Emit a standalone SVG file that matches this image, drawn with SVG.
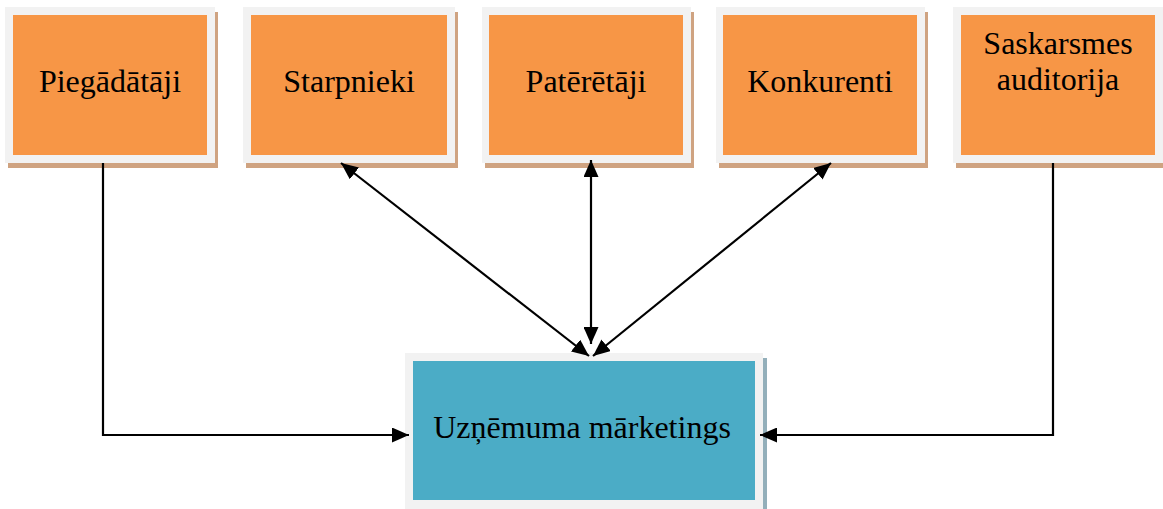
<svg xmlns="http://www.w3.org/2000/svg" width="1163" height="509" viewBox="0 0 1163 509">
<defs>
<style>
.frame{fill:#F2F2F2}
.shadowO{fill:#CFA381}
.shadowB{fill:#93AFBA}
.orange{fill:#F79646}
.teal{fill:#4BACC6}
.lbl{font-family:"Liberation Serif","Times New Roman",serif;font-size:32px;fill:#000;text-anchor:middle}
.ln{stroke:#000;stroke-width:2.2;fill:none}
</style>
<marker id="ahL" viewBox="0 0 10 10" refX="10" refY="5" markerWidth="17" markerHeight="15" markerUnits="userSpaceOnUse" orient="auto-start-reverse" preserveAspectRatio="none">
<path d="M0,0 L10,5 L0,10 z" fill="#000"/>
</marker>
</defs>
<rect width="1163" height="509" fill="#fff"/>
<g id="node-piegadataji">
<rect class="shadowO" x="8" y="12" width="210" height="156"/>
<rect class="frame" x="5" y="7" width="210" height="156"/>
<rect class="orange" x="13" y="15" width="194" height="140"/>
<text class="lbl" x="110" y="92">Piegādātāji</text>
</g>
<g id="node-starpnieki">
<rect class="shadowO" x="246" y="12" width="212" height="156"/>
<rect class="frame" x="243" y="7" width="212" height="156"/>
<rect class="orange" x="251" y="15" width="196" height="140"/>
<text class="lbl" x="349" y="92">Starpnieki</text>
</g>
<g id="node-pateretaji">
<rect class="shadowO" x="485" y="12" width="209" height="156"/>
<rect class="frame" x="482" y="7" width="209" height="156"/>
<rect class="orange" x="489" y="15" width="194" height="140"/>
<text class="lbl" x="586" y="92">Patērētāji</text>
</g>
<g id="node-konkurenti">
<rect class="shadowO" x="719" y="12" width="209" height="156"/>
<rect class="frame" x="716" y="7" width="209" height="156"/>
<rect class="orange" x="723" y="15" width="194" height="140"/>
<text class="lbl" x="820" y="92">Konkurenti</text>
</g>
<g id="node-saskarsmes">
<rect class="shadowO" x="956" y="12" width="210" height="156"/>
<rect class="frame" x="953" y="7" width="210" height="156"/>
<rect class="orange" x="961" y="15" width="194" height="140"/>
<text class="lbl" x="1058" y="54">Saskarsmes</text>
<text class="lbl" x="1058" y="90">auditorija</text>
</g>
<g id="node-uznemuma">
<rect class="shadowB" x="408" y="358" width="359" height="156"/>
<rect class="frame" x="405" y="353" width="358" height="156"/>
<rect class="teal" x="413" y="361" width="342" height="139"/>
<text class="lbl" x="582" y="438">Uzņēmuma mārketings</text>
</g>
<g id="connectors">
<polyline class="ln" points="103,163 103,435 409,435" marker-end="url(#ahL)"/>
<polyline class="ln" points="1053,163 1053,435 760,435" marker-end="url(#ahL)"/>
<line class="ln" x1="341" y1="163" x2="589" y2="356" marker-start="url(#ahL)" marker-end="url(#ahL)"/>
<line class="ln" x1="591" y1="160" x2="591" y2="344" marker-start="url(#ahL)" marker-end="url(#ahL)"/>
<line class="ln" x1="831" y1="163" x2="593" y2="356" marker-start="url(#ahL)" marker-end="url(#ahL)"/>
</g>
</svg>
